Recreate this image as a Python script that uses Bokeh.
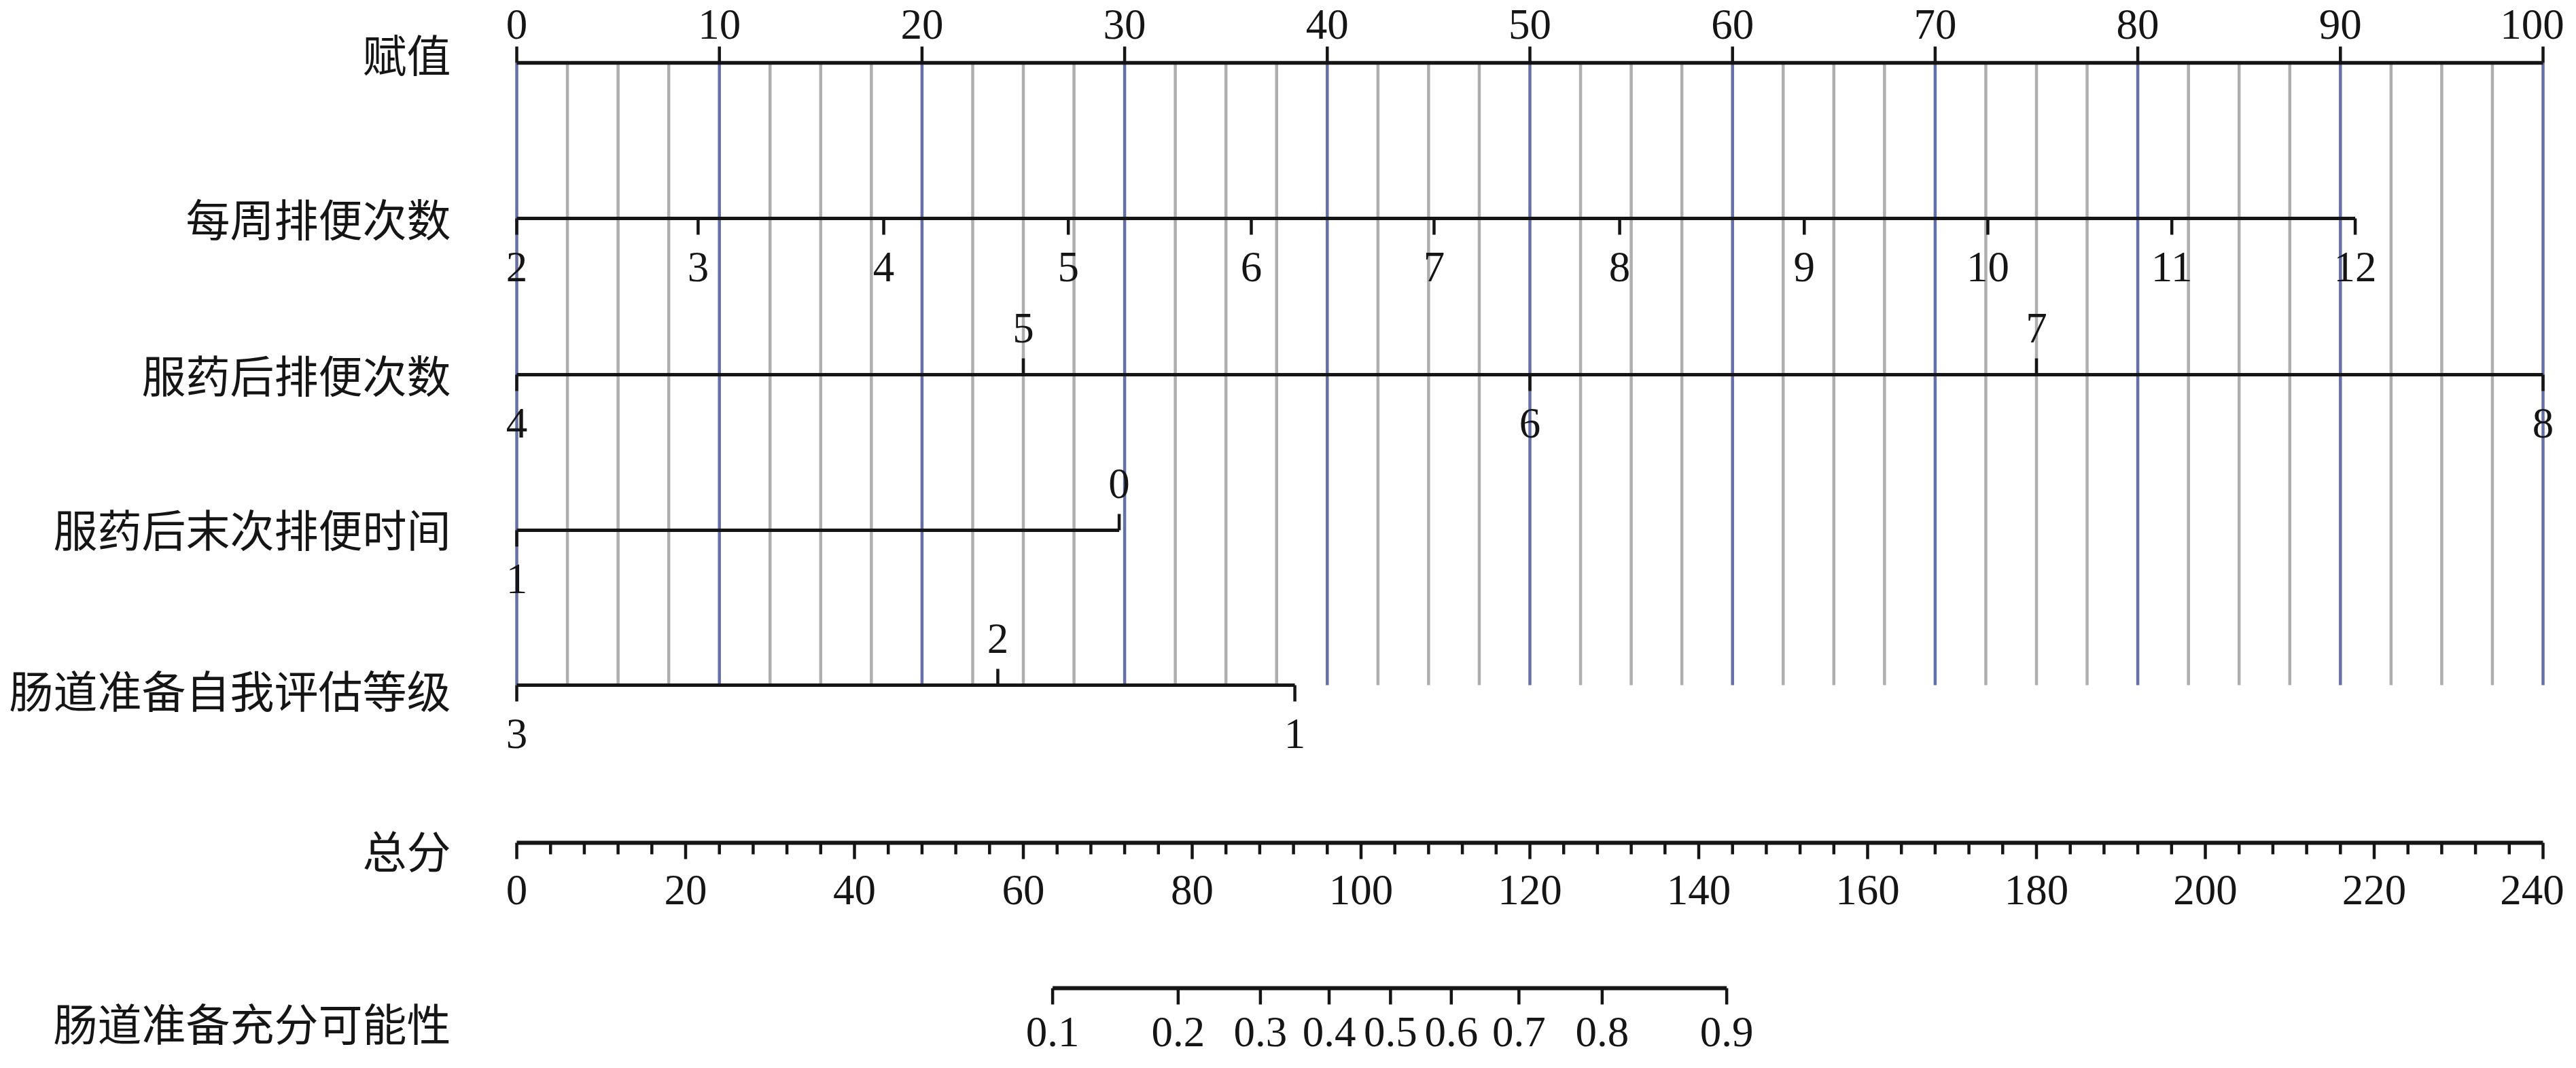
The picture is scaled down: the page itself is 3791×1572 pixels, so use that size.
from bokeh.plotting import figure
from bokeh.models import Range1d
from bokeh.core.properties import value
from bokeh.embed import file_html
from bokeh.resources import INLINE
import numpy as np

# ---------------- data ----------------
row_names = ["赋值", "每周排便次数", "服药后排便次数", "服药后末次排便时间",
             "肠道准备自我评估等级", "总分", "肠道准备充分可能性"]

points_ticks = [0, 10, 20, 30, 40, 50, 60, 70, 80, 90, 100]

weekly_labels = ["2", "3", "4", "5", "6", "7", "8", "9", "10", "11", "12"]
weekly_points = [0, 8.95, 18.11, 27.22, 36.25, 45.27, 54.43, 63.54, 72.60, 81.68, 90.73]
weekly_side = ["below"] * 11

postmed_labels = ["4", "5", "6", "7", "8"]
postmed_points = [0, 25, 50, 75, 100]
postmed_side = ["below", "above", "below", "above", "below"]

lasttime_labels = ["1", "0"]
lasttime_points = [0, 29.73]
lasttime_side = ["below", "above"]

selfgrade_labels = ["3", "2", "1"]
selfgrade_points = [0, 23.74, 38.40]
selfgrade_side = ["below", "above", "below"]

total_ticks = [0, 20, 40, 60, 80, 100, 120, 140, 160, 180, 200, 220, 240]
total_max = 240
total_minor_step = 4

prob_labels = ["0.1", "0.2", "0.3", "0.4", "0.5", "0.6", "0.7", "0.8", "0.9"]
prob_total = [63.47, 78.34, 88.08, 96.22, 103.49, 110.69, 118.70, 128.56, 143.31]

# ---------------- layout (figure pixel space) ----------------
W, H = 3775, 1556
PX_PER_PT = 29.82
X0 = 760               # pixel x of 0 points
x_start = -X0 / PX_PER_PT
x_end = x_start + W / PX_PER_PT

ROW_Y = [92, 321, 551, 780, 1008, 1240, 1454]
LABEL_CY = [82, 324, 554, 781, 1018, 1254, 1508]
TOP_BASE = 57
PROB_BASE = 1540
LABEL_X = (663 - X0) / PX_PER_PT
TICK = 24
MINOR = 17
ABOVE_BASE = -47
BELOW_BASE = 93
NUM_SHIFT = 22        # renderer baseline correction for numbers
CJK_SHIFT = 30        # renderer correction for CJK labels
INK = "#151515"
BLUE = "#6670A8"
GRAY = "#AEAEAE"
NUM_FONT = value("Liberation Serif")
NUM_SIZE = value("63px")
CJK_FONT = value("Noto Sans CJK SC")
CJK_SIZE = value("65px")

p = figure(width=W, height=H, output_backend="svg", toolbar_location=None,
           x_range=Range1d(x_start, x_end), y_range=Range1d(H, 0),
           min_border=0, outline_line_color=None, background_fill_color="white",
           border_fill_color="white")
p.axis.visible = False
p.grid.visible = False

# vertical reference lines
grid_x = np.arange(0, 100.01, 2.5)
blue_x = [x for x in grid_x if abs(x % 10) < 1e-9]
gray_x = [x for x in grid_x if abs(x % 10) > 1e-9]
p.segment(x0=gray_x, y0=[ROW_Y[0]] * len(gray_x), x1=gray_x, y1=[ROW_Y[4]] * len(gray_x),
          line_color=GRAY, line_width=4.5)
p.segment(x0=blue_x, y0=[ROW_Y[0]] * len(blue_x), x1=blue_x, y1=[ROW_Y[4]] * len(blue_x),
          line_color=BLUE, line_width=4.5)


def num_text(xs, bases, labels, xoff=None):
    if xoff is None:
        xoff = [0] * len(xs)
    p.text(x=xs, y=[b - NUM_SHIFT for b in bases], text=labels, x_offset=xoff,
           text_font=NUM_FONT, text_font_size=NUM_SIZE,
           text_align="center", text_baseline="alphabetic", text_color=INK)


# points axis (top)
y = ROW_Y[0]
p.segment(x0=[0], y0=[y], x1=[100], y1=[y], line_color=INK, line_width=5.5)
p.segment(x0=points_ticks, y0=[y] * len(points_ticks), x1=points_ticks,
          y1=[y - TICK] * len(points_ticks), line_color=INK, line_width=4.5)
num_text(points_ticks, [TOP_BASE] * len(points_ticks), [str(t) for t in points_ticks],
         [0] * (len(points_ticks) - 1) + [-16])


def var_row(y, pts, labels, sides):
    p.segment(x0=[min(pts)], y0=[y], x1=[max(pts)], y1=[y], line_color=INK, line_width=5)
    ends = [y - TICK if s == "above" else y + TICK for s in sides]
    p.segment(x0=pts, y0=[y] * len(pts), x1=pts, y1=ends, line_color=INK, line_width=4.5)
    bases = [y + ABOVE_BASE if s == "above" else y + BELOW_BASE for s in sides]
    num_text(pts, bases, labels)


var_row(ROW_Y[1], weekly_points, weekly_labels, weekly_side)
var_row(ROW_Y[2], postmed_points, postmed_labels, postmed_side)
var_row(ROW_Y[3], lasttime_points, lasttime_labels, lasttime_side)
var_row(ROW_Y[4], selfgrade_points, selfgrade_labels, selfgrade_side)

# total points axis
scale_t = 100.0 / total_max
y = ROW_Y[5]
p.segment(x0=[0], y0=[y], x1=[total_max * scale_t], y1=[y], line_color=INK, line_width=6)
minor = [t * scale_t for t in range(0, total_max + 1, total_minor_step) if t % 20 != 0]
p.segment(x0=minor, y0=[y] * len(minor), x1=minor, y1=[y + MINOR] * len(minor),
          line_color=INK, line_width=4.5)
major = [t * scale_t for t in total_ticks]
p.segment(x0=major, y0=[y] * len(major), x1=major, y1=[y + TICK] * len(major),
          line_color=INK, line_width=4.5)
num_text(major, [y + 91] * len(major), [str(t) for t in total_ticks],
         [0] * (len(major) - 1) + [-16])

# probability axis
y = ROW_Y[6]
px = [t * scale_t for t in prob_total]
p.segment(x0=[px[0]], y0=[y], x1=[px[-1]], y1=[y], line_color=INK, line_width=6)
p.segment(x0=px, y0=[y] * len(px), x1=px, y1=[y + TICK] * len(px),
          line_color=INK, line_width=4.5)
num_text(px, [PROB_BASE] * len(px), prob_labels)

# row names
p.text(x=[LABEL_X] * len(row_names), y=[c + 25 - CJK_SHIFT for c in LABEL_CY],
       text=row_names, text_font=CJK_FONT, text_font_size=CJK_SIZE, text_align="right",
       text_baseline="alphabetic", text_color=INK)

open("out.html", "w", encoding="utf-8").write(file_html(p, INLINE))
